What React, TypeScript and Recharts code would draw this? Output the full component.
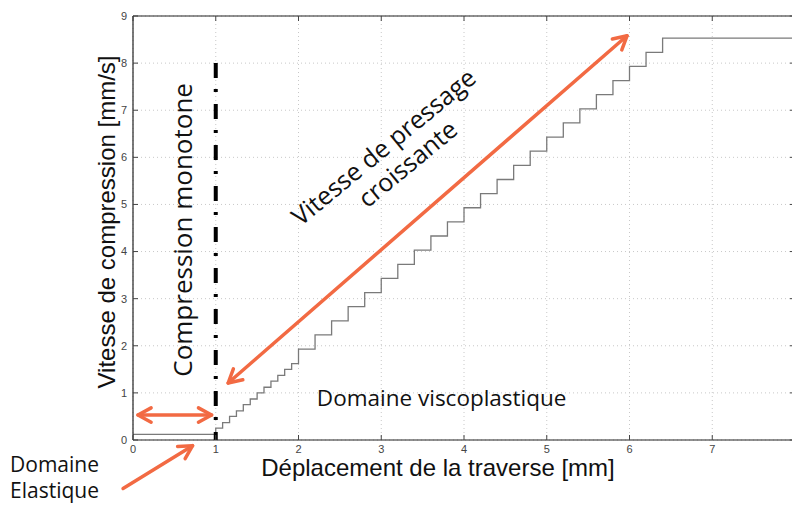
import { CartesianGrid, Line, LineChart, ReferenceDot, ReferenceLine, XAxis, YAxis } from "recharts";

// déplacement de la traverse [mm] where each speed step starts
const displacement = [
  0, 1.0, 1.083, 1.167, 1.25, 1.333, 1.417, 1.5, 1.583, 1.667, 1.75, 1.833, 1.917,
  2.0, 2.2, 2.4, 2.6, 2.8, 3.0, 3.2, 3.4, 3.6, 3.8, 4.0, 4.2, 4.4, 4.6, 4.8,
  5.0, 5.2, 5.4, 5.6, 5.8, 6.0, 6.2, 6.4, 8.0,
];
// vitesse de compression [mm/s] held from that point on
const speed = [
  0.12, 0.25, 0.37, 0.5, 0.62, 0.75, 0.87, 1.0, 1.12, 1.25, 1.37, 1.5, 1.62,
  1.93, 2.23, 2.53, 2.83, 3.13, 3.43, 3.73, 4.03, 4.33, 4.63, 4.93, 5.23, 5.53, 5.83, 6.13,
  6.43, 6.73, 7.03, 7.33, 7.63, 7.93, 8.23, 8.53, 8.53,
];
const xTicks = [0, 1, 2, 3, 4, 5, 6, 7, 8];
const yTicks = [0, 1, 2, 3, 4, 5, 6, 7, 8, 9];

const data = displacement.map((x, i) => ({ x, v: speed[i] }));

const W = 820;
const H = 505;
const M_TOP = 16;
const M_RIGHT = 25;
const Y_AXIS_W = 133;
const X_AXIS_H = 65;
const PLOT_TOP = M_TOP;
const PLOT_BOTTOM = H - X_AXIS_H;
const PLOT_LEFT = Y_AXIS_W;
const PLOT_RIGHT = W - M_RIGHT;

const ORANGE = "#f26a43";
const ANNOT_FONT = "'Open Sans', sans-serif";
const AXIS_FONT = "'Liberation Sans', Arial, sans-serif";

function XTick(props: any) {
  const { x, y, payload } = props;
  return (
    <g>
      <line x1={x} y1={PLOT_BOTTOM} x2={x} y2={PLOT_BOTTOM - 5} stroke="#444" />
      <line x1={x} y1={PLOT_TOP} x2={x} y2={PLOT_TOP + 5} stroke="#444" />
      <text x={x} y={y} dy="0.71em" textAnchor="middle" fontSize={11} fill="#444" fontFamily={AXIS_FONT}>
        {payload.value}
      </text>
    </g>
  );
}

function YTick(props: any) {
  const { x, y, payload } = props;
  return (
    <g>
      <line x1={PLOT_LEFT} y1={y} x2={PLOT_LEFT + 5} y2={y} stroke="#444" />
      <line x1={PLOT_RIGHT} y1={y} x2={PLOT_RIGHT - 5} y2={y} stroke="#444" />
      <text x={x} y={y} dy="0.355em" textAnchor="end" fontSize={11} fill="#444" fontFamily={AXIS_FONT}>
        {payload.value}
      </text>
    </g>
  );
}

function chevron(tx: number, ty: number, fx: number, fy: number, key: string) {
  const a = Math.atan2(fy - ty, fx - tx);
  const len = 15;
  const spread = 0.5;
  const p1 = [tx + len * Math.cos(a + spread), ty + len * Math.sin(a + spread)];
  const p2 = [tx + len * Math.cos(a - spread), ty + len * Math.sin(a - spread)];
  return (
    <polyline
      key={key}
      points={`${p1[0]},${p1[1]} ${tx},${ty} ${p2[0]},${p2[1]}`}
      fill="none"
      stroke={ORANGE}
      strokeWidth={3.5}
      strokeLinecap="round"
      strokeLinejoin="round"
    />
  );
}

function arrow(both: boolean) {
  return (p: any) => {
    const { x1, y1, x2, y2 } = p;
    return (
      <g>
        <line x1={x1} y1={y1} x2={x2} y2={y2} stroke={ORANGE} strokeWidth={3.5} strokeLinecap="round" />
        {chevron(x2, y2, x1, y1, "end")}
        {both ? chevron(x1, y1, x2, y2, "start") : null}
      </g>
    );
  };
}

function label(text: string, size: number, angle: number, anchor: string = "middle") {
  return (p: any) => (
    <text
      x={p.cx}
      y={p.cy}
      dy="0.35em"
      textAnchor={anchor}
      fontSize={size}
      fill="#111"
      fontFamily={ANNOT_FONT}
      transform={angle ? `rotate(${angle}, ${p.cx}, ${p.cy})` : undefined}
    >
      {text}
    </text>
  );
}

export default function App() {
  return (
    <div style={{ position: "fixed", left: 0, top: 0, width: 792, height: 505, overflow: "hidden", background: "#fff" }}>
      <LineChart width={W} height={H} data={data} margin={{ top: M_TOP, right: M_RIGHT, left: 0, bottom: 0 }}>
        <CartesianGrid stroke="#c8c8c8" strokeDasharray="1 3" />
        <XAxis
          dataKey="x"
          type="number"
          domain={[0, 8]}
          ticks={xTicks}
          allowDataOverflow
          height={X_AXIS_H}
          tickLine={false}
          tickSize={0}
          tickMargin={5}
          tick={<XTick />}
          axisLine={{ stroke: "#222", strokeWidth: 1.2 }}
          label={{
            content: (p: any) => (
              <text
                x={p.viewBox.x + 305}
                y={p.viewBox.y + 36}
                textAnchor="middle"
                fontSize={24}
                fill="#111"
                fontFamily={AXIS_FONT}
              >
                Déplacement de la traverse [mm]
              </text>
            ),
          }}
        />
        <YAxis
          type="number"
          domain={[0, 9]}
          ticks={yTicks}
          allowDataOverflow
          width={Y_AXIS_W}
          tickLine={false}
          tickSize={0}
          tickMargin={6}
          tick={<YTick />}
          axisLine={{ stroke: "#222", strokeWidth: 1.2 }}
          label={{
            content: (p: any) => {
              const cx = p.viewBox.x + 107;
              const cy = p.viewBox.y + p.viewBox.height / 2 - 6;
              return (
                <text
                  x={cx}
                  y={cy}
                  dy="0.35em"
                  textAnchor="middle"
                  fontSize={24}
                  fill="#111"
                  fontFamily={AXIS_FONT}
                  transform={`rotate(-90, ${cx}, ${cy})`}
                >
                  Vitesse de compression [mm/s]
                </text>
              );
            },
          }}
        />
        <ReferenceLine y={9} stroke="#222" strokeWidth={1.2} />
        <ReferenceLine x={8} stroke="#222" strokeWidth={1.2} />
        <Line
          type="stepAfter"
          dataKey="v"
          stroke="#7a7a7a"
          strokeWidth={1.3}
          dot={false}
          isAnimationActive={false}
        />
        <ReferenceLine
          segment={[{ x: 1, y: 8 }, { x: 1, y: 0 }]}
          stroke="#000"
          strokeWidth={4}
          strokeDasharray="15 11 3 12"
          ifOverflow="visible"
        />
        <ReferenceLine segment={[{ x: 0.06, y: 0.53 }, { x: 0.95, y: 0.53 }]} ifOverflow="visible" shape={arrow(true)} />
        <ReferenceLine segment={[{ x: 1.15, y: 1.21 }, { x: 5.97, y: 8.58 }]} ifOverflow="visible" shape={arrow(true)} />
        <ReferenceLine segment={[{ x: -0.12, y: -1.03 }, { x: 0.72, y: -0.12 }]} ifOverflow="visible" shape={arrow(false)} />
        <ReferenceDot x={0.6} y={4.46} ifOverflow="visible" shape={label("Compression monotone", 26, -90)} />
        <ReferenceDot x={3.03} y={6.22} ifOverflow="visible" shape={label("Vitesse de pressage", 25, -39.5)} />
        <ReferenceDot x={3.32} y={5.86} ifOverflow="visible" shape={label("croissante", 25, -39.5)} />
        <ReferenceDot x={3.73} y={0.89} ifOverflow="visible" shape={label("Domaine viscoplastique", 22.5)} />
        <ReferenceDot x={-1.486} y={-0.52} ifOverflow="visible" shape={label("Domaine", 21, 0, "start")} />
        <ReferenceDot x={-1.486} y={-1.07} ifOverflow="visible" shape={label("Elastique", 21, 0, "start")} />
      </LineChart>
    </div>
  );
}
